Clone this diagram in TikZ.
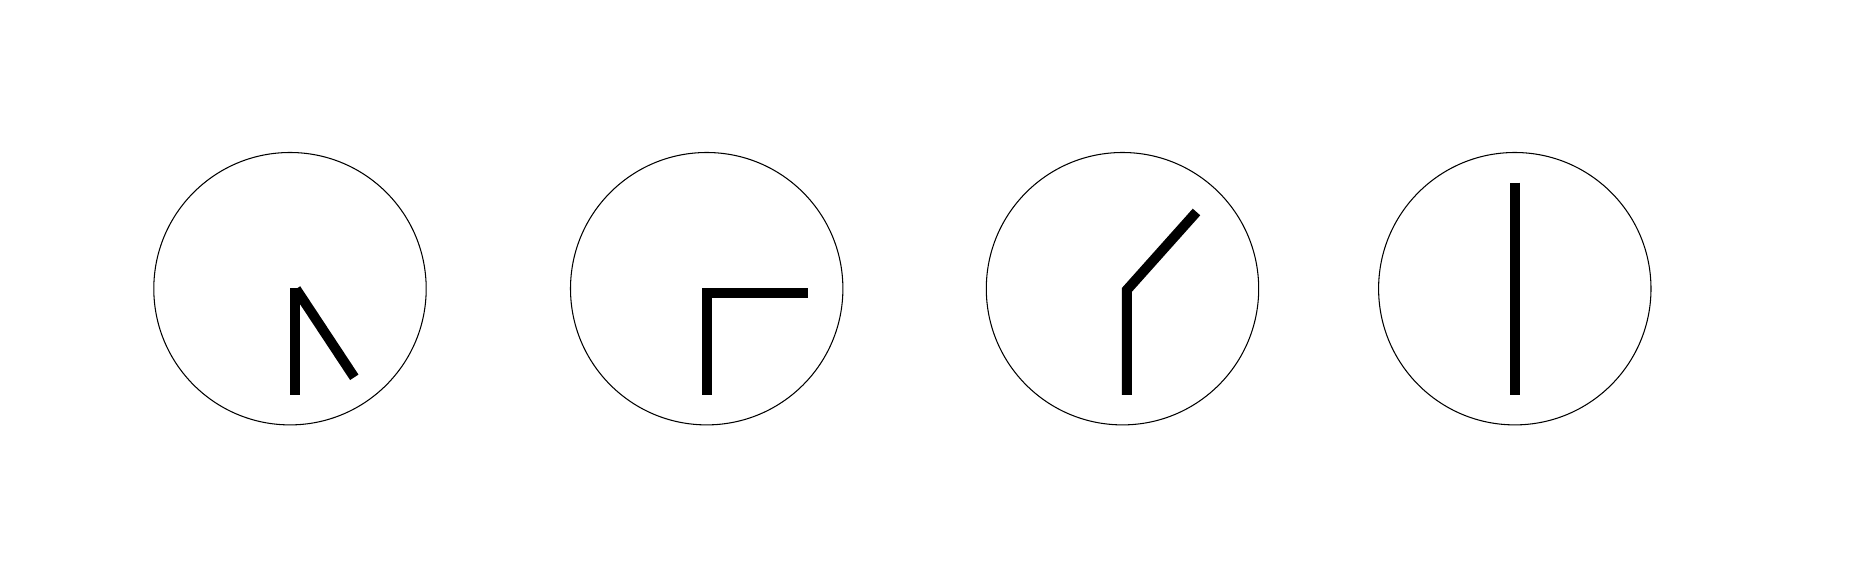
\documentclass[tikz,border=0pt]{standalone}
\usepackage{tikz}
\usetikzlibrary{positioning}
\tikzset{
  dial/.style={draw=black, line width=0.3pt},
  hand/.style={draw=black, line width=1mm, line cap=butt, line join=miter}
}

\begin{document}
\begin{tikzpicture}
  \useasboundingbox (0,0) rectangle (18.61,5.80);
  \begin{scope}[shift={(2.90,2.913)}]
    \draw[dial] (0,0) circle (1.362);
    \draw[hand] (0.05,0.007) -- (0.05,-1.063);
    \draw[hand] (0.06,-0.003) -- (0.643,-0.886);
  \end{scope}
  \begin{scope}[shift={(7.067,2.913)}]
    \draw[dial] (0,0) circle (1.362);
    \draw[hand] (0,-1.063) -- (0,-0.04) -- (1.016,-0.04);
  \end{scope}
  \begin{scope}[shift={(11.225,2.913)}]
    \draw[dial] (0,0) circle (1.362);
    \draw[hand] (0.043,-1.063) -- (0.043,-0.013) -- (0.74,0.767);
  \end{scope}
  \begin{scope}[shift={(15.148,2.913)}]
    \draw[dial] (0,0) circle (1.362);
    \draw[hand] (0,1.06) -- (0,-1.063);
  \end{scope}
\end{tikzpicture}
\end{document}
